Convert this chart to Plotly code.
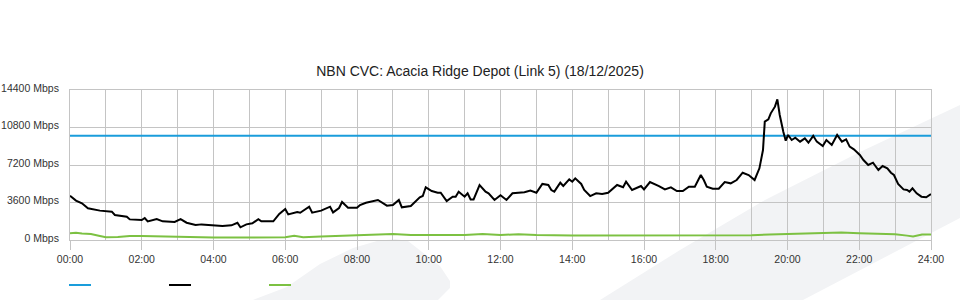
import plotly.graph_objects as go

# ---------------- data ----------------
title_text = "NBN CVC: Acacia Ridge Depot (Link 5) (18/12/2025)"

x_tick_vals = [0, 2, 4, 6, 8, 10, 12, 14, 16, 18, 20, 22, 24]
x_tick_text = ["00:00", "02:00", "04:00", "06:00", "08:00", "10:00", "12:00",
               "14:00", "16:00", "18:00", "20:00", "22:00", "24:00"]
y_tick_vals = [0, 3600, 7200, 10800, 14400]
y_tick_text = ["0 Mbps", "3600 Mbps", "7200 Mbps", "10800 Mbps", "14400 Mbps"]

# capacity (blue)
cap_minutes = [0, 1440]
cap_values = [10000, 10000]

# traffic (black), minutes after midnight
traffic_minutes = [
    0, 10, 20, 30, 50, 70, 75, 95, 100, 115, 120, 125, 130, 145, 155, 175, 185, 195,
    210, 220, 235, 255, 270, 280, 285, 295, 305, 315, 320, 340, 350, 360, 365, 380,
    385, 400, 405, 420, 435, 440, 450, 455, 465, 480, 485, 495, 515, 530, 540, 550,
    555, 570, 585, 590, 595, 605, 615, 620, 630, 640, 645, 650, 660, 665, 670, 675,
    685, 695, 700, 710, 720, 730, 740, 760, 770, 780, 790, 800, 805, 810, 820, 825,
    835, 840, 845, 855, 860, 870, 880, 890, 900, 915, 925, 930, 940, 955, 960, 970,
    985, 995, 1005, 1015, 1025, 1035, 1045, 1055, 1060, 1065, 1075, 1085, 1095, 1105,
    1115, 1125, 1135, 1145, 1153, 1159, 1162, 1168, 1172, 1179, 1183, 1187, 1193,
    1197, 1201, 1207, 1213, 1221, 1229, 1235, 1243, 1249, 1259, 1265, 1274, 1283,
    1291, 1298, 1304, 1311, 1321, 1327, 1335, 1343, 1352, 1359, 1367, 1373, 1378,
    1385, 1394, 1400, 1404, 1409, 1416, 1424, 1432, 1440]
traffic_values = [
    4250, 3780, 3520, 3040, 2820, 2720, 2400, 2240, 1980, 1980, 1920, 2110, 1790, 2020, 1790, 1730, 2000, 1660,
    1440, 1500, 1410, 1340, 1410, 1660, 1220, 1500, 1600, 2000, 1790, 1790, 2500, 2980, 2460, 2690,
    2620, 3200, 2620, 2820, 3200, 2650, 3070, 3650, 3100, 3100, 3360, 3580, 3840, 3300, 3360, 3840,
    3140, 3260, 4100, 4220, 5060, 4700, 4540, 4540, 3740, 4160, 4160, 4640, 4160, 4480, 3900, 3900,
    5280, 4640, 4480, 3840, 4290, 3840, 4480, 4580, 4740, 4540, 5380, 5280, 4800, 4640, 5500, 5180,
    5820, 5600, 5920, 5380, 4800, 4220, 4480, 4420, 4540, 5280, 5060, 5600, 4800, 5180, 4860, 5560,
    5180, 4860, 5050, 4700, 4700, 5120, 5120, 6240, 5760, 5120, 4930, 4930, 5570, 5440,
    5760, 6460, 6240, 5760, 6880, 8640, 11360, 11580, 12160, 12800, 13500, 12000, 10400,
    9530, 10080, 9600, 9820, 9440, 9760, 9340, 10000, 9440, 9020, 9600, 9120, 10080,
    9440, 9660, 8960, 8700, 8160, 7680, 7200, 7420, 6720, 7100, 6880, 6460, 6240,
    5380, 4860, 4800, 4640, 4960, 4480, 4160, 4100, 4420]

# second traffic series (green)
green_minutes = [0, 10, 20, 35, 50, 60, 80, 100, 120, 140, 150, 165, 180, 210, 240, 300, 360,
                 375, 390, 420, 450, 480, 510, 540, 570, 600, 630, 660, 690, 720, 750, 780,
                 840, 900, 960, 1020, 1080, 1140, 1170, 1200, 1230, 1260, 1290, 1320, 1350,
                 1380, 1400, 1410, 1425, 1440]
green_values = [640, 700, 620, 580, 380, 260, 300, 380, 380, 360, 320, 300, 260, 250, 240, 240, 260,
                400, 270, 330, 380, 470, 540, 570, 470, 460, 470, 480, 570, 480, 560, 470,
                440, 430, 480, 430, 440, 460, 540, 580, 610, 640, 720, 650, 610,
                560, 420, 330, 520, 520]

# ---------------- helpers for layout (pixel -> paper) ----------------
W, H = 960, 300
PL, PR, PT, PB = 70, 931, 90, 240


def px(x):
    return (x - PL) / (PR - PL)


def py(y):
    return (PB - y) / (PB - PT)


def path(points):
    return "M" + " L".join(f"{px(a):.4f},{py(b):.4f}" for a, b in points) + " Z"


def hours(mins):
    return [m / 60 for m in mins]


BLUE = "#1a9ddb"
GREEN = "#7cc142"
BLACK = "#000000"
GRID = "#c4c4c4"
WM = "#f2f3f5"

fig = go.Figure()
fig.add_trace(go.Scatter(x=hours(green_minutes), y=green_values, mode="lines",
                         line=dict(color=GREEN, width=2), name=""))
fig.add_trace(go.Scatter(x=hours(cap_minutes), y=cap_values, mode="lines",
                         line=dict(color=BLUE, width=2), name=""))
fig.add_trace(go.Scatter(x=hours(traffic_minutes), y=traffic_values, mode="lines",
                         line=dict(color=BLACK, width=2), name=""))

shapes = []
# watermark band
shapes.append(dict(type="path", xref="paper", yref="paper", layer="below",
                   path=path([(600, 300), (680, 250), (765, 200), (860, 152), (960, 105),
                              (960, 218), (803, 300)]),
                   fillcolor=WM, line=dict(width=0)))
# watermark swoosh
shapes.append(dict(type="path", xref="paper", yref="paper", layer="below",
                   path=path([(253, 300), (287, 287), (320, 264), (353, 248), (377, 241),
                              (395, 239), (408, 241), (440, 266), (450, 281), (450, 288),
                              (438, 300)]),
                   fillcolor=WM, line=dict(width=0)))
# legend swatches
for x0, col in [(69, BLUE), (169, BLACK), (269, GREEN)]:
    shapes.append(dict(type="line", xref="paper", yref="paper",
                       x0=px(x0), x1=px(x0 + 22), y0=py(285), y1=py(285),
                       line=dict(color=col, width=2)))

FONT = "Liberation Sans, Arial, sans-serif"

fig.update_layout(
    width=W, height=H,
    margin=dict(l=PL, r=W - PR, t=PT, b=H - PB, autoexpand=False),
    paper_bgcolor="white",
    plot_bgcolor="rgba(0,0,0,0)",
    showlegend=False,
    font=dict(family=FONT, size=10.5, color="#333333"),
    title=dict(text=title_text, x=0.5, xanchor="center", y=1 - 71 / H, yanchor="middle",
               font=dict(family=FONT, size=14, color="#222222")),
    shapes=shapes,
    xaxis=dict(range=[0, 24], tickmode="array", tickvals=x_tick_vals, ticktext=x_tick_text,
               showgrid=True, gridcolor=GRID, gridwidth=1, zeroline=False,
               showline=True, linecolor=GRID, linewidth=1, mirror=True,
               ticks="outside", ticklen=9, tickcolor=GRID, tickwidth=1,
               tickfont=dict(size=10.5, color="#333333"),
               minor=dict(tickmode="linear", tick0=0, dtick=1, showgrid=True,
                          gridcolor=GRID, gridwidth=1, ticks=""),
               fixedrange=True),
    yaxis=dict(range=[0, 14400], tickmode="array", tickvals=y_tick_vals, ticktext=y_tick_text,
               showgrid=True, gridcolor=GRID, gridwidth=1, zeroline=False,
               showline=True, linecolor=GRID, linewidth=1, mirror=True,
               ticks="", ticklabelstandoff=8, ticklabelshift=-2,
               tickfont=dict(size=10.5, color="#333333"),
               fixedrange=True),
)

fig.write_html("out.html")
